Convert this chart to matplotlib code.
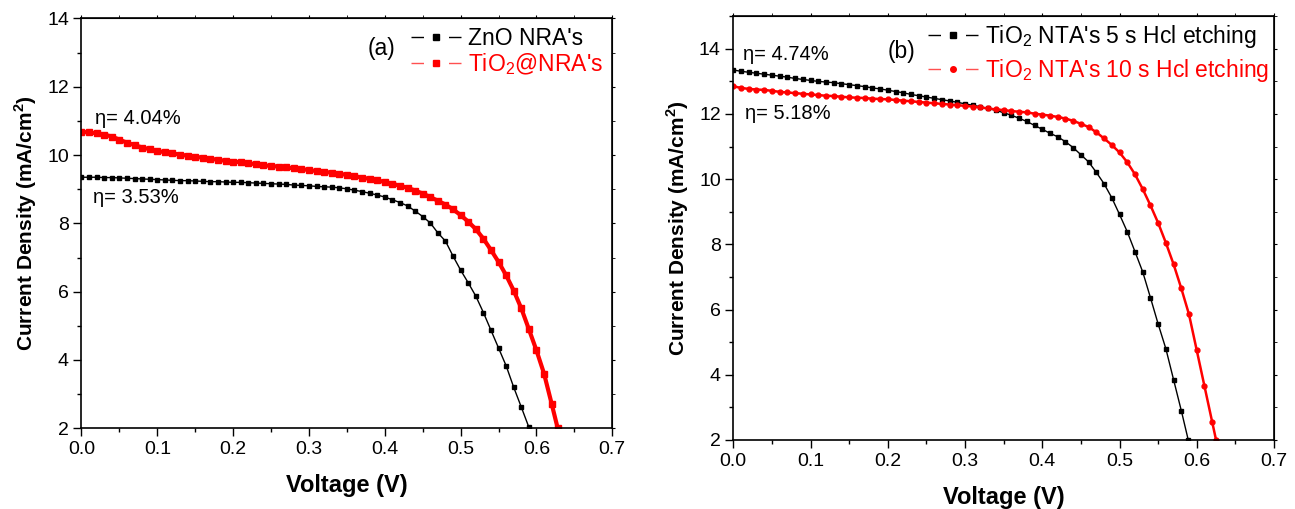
import matplotlib
matplotlib.use("Agg")
from matplotlib import pyplot as plt
from matplotlib.lines import Line2D
from matplotlib.ticker import MultipleLocator

plt.rcParams['font.family'] = ['Liberation Sans', 'DejaVu Sans']
plt.rcParams['mathtext.fontset'] = 'custom'
plt.rcParams['mathtext.rm'] = 'Liberation Sans'
plt.rcParams['mathtext.bf'] = 'Liberation Sans:bold'

# panel (a) - voltage (V) and current density (mA/cm2)
v_zno = [0.00, 0.01, 0.02, 0.03, 0.04, 0.05, 0.06, 0.07, 0.08, 0.09,
         0.10, 0.11, 0.12, 0.13, 0.14, 0.15, 0.16, 0.17, 0.18, 0.19,
         0.20, 0.21, 0.22, 0.23, 0.24, 0.25, 0.26, 0.27, 0.28, 0.29,
         0.30, 0.31, 0.32, 0.33, 0.34, 0.35, 0.36, 0.37, 0.38, 0.39,
         0.40, 0.41, 0.42, 0.43, 0.44, 0.45, 0.46, 0.47, 0.48, 0.49,
         0.50, 0.51, 0.52, 0.53, 0.54, 0.55, 0.56, 0.57, 0.58, 0.59]
j_zno = [9.35, 9.35, 9.35, 9.34, 9.34, 9.33, 9.32, 9.31, 9.30, 9.29,
         9.28, 9.27, 9.26, 9.25, 9.25, 9.24, 9.23, 9.22, 9.22, 9.21,
         9.20, 9.20, 9.19, 9.18, 9.17, 9.16, 9.15, 9.14, 9.12, 9.11,
         9.10, 9.08, 9.07, 9.06, 9.04, 9.01, 8.97, 8.93, 8.88, 8.83,
         8.77, 8.69, 8.61, 8.51, 8.36, 8.20, 8.01, 7.72, 7.48, 7.04,
         6.63, 6.26, 5.87, 5.39, 4.87, 4.35, 3.83, 3.20, 2.62, 2.03]

v_tio2 = [0.00, 0.01, 0.02, 0.03, 0.04, 0.05, 0.06, 0.07, 0.08, 0.09,
          0.10, 0.11, 0.12, 0.13, 0.14, 0.15, 0.16, 0.17, 0.18, 0.19,
          0.20, 0.21, 0.22, 0.23, 0.24, 0.25, 0.26, 0.27, 0.28, 0.29,
          0.30, 0.31, 0.32, 0.33, 0.34, 0.35, 0.36, 0.37, 0.38, 0.39,
          0.40, 0.41, 0.42, 0.43, 0.44, 0.45, 0.46, 0.47, 0.48, 0.49,
          0.50, 0.51, 0.52, 0.53, 0.54, 0.55, 0.56, 0.57, 0.58, 0.59,
          0.60, 0.61, 0.62, 0.628]
j_tio2 = [10.68, 10.66, 10.64, 10.60, 10.54, 10.45, 10.36, 10.29, 10.22, 10.17,
          10.12, 10.08, 10.05, 10.01, 9.98, 9.95, 9.92, 9.89, 9.86, 9.83,
          9.81, 9.79, 9.76, 9.73, 9.70, 9.68, 9.66, 9.64, 9.61, 9.59,
          9.56, 9.53, 9.51, 9.48, 9.45, 9.42, 9.38, 9.34, 9.30, 9.26,
          9.21, 9.16, 9.10, 9.04, 8.96, 8.87, 8.77, 8.66, 8.55, 8.41,
          8.24, 8.05, 7.83, 7.55, 7.22, 6.87, 6.48, 6.03, 5.51, 4.90,
          4.28, 3.60, 2.72, 2.00]

# panel (b)
v_5s = [0.00, 0.01, 0.02, 0.03, 0.04, 0.05, 0.06, 0.07, 0.08, 0.09,
        0.10, 0.11, 0.12, 0.13, 0.14, 0.15, 0.16, 0.17, 0.18, 0.19,
        0.20, 0.21, 0.22, 0.23, 0.24, 0.25, 0.26, 0.27, 0.28, 0.29,
        0.30, 0.31, 0.32, 0.33, 0.34, 0.35, 0.36, 0.37, 0.38, 0.39,
        0.40, 0.41, 0.42, 0.43, 0.44, 0.45, 0.46, 0.47, 0.48, 0.49,
        0.50, 0.51, 0.52, 0.53, 0.54, 0.55, 0.56, 0.57, 0.58, 0.589]
j_5s = [13.35, 13.31, 13.28, 13.25, 13.22, 13.19, 13.16, 13.13, 13.09, 13.06,
        13.03, 13.00, 12.98, 12.96, 12.93, 12.90, 12.87, 12.84, 12.80, 12.77,
        12.73, 12.69, 12.65, 12.60, 12.56, 12.52, 12.48, 12.44, 12.40, 12.36,
        12.31, 12.27, 12.22, 12.17, 12.11, 12.04, 11.96, 11.87, 11.77, 11.65,
        11.53, 11.41, 11.30, 11.15, 10.97, 10.75, 10.53, 10.21, 9.86, 9.43,
        8.92, 8.39, 7.78, 7.16, 6.37, 5.56, 4.80, 3.85, 2.90, 2.00]

v_10s = [0.00, 0.01, 0.02, 0.03, 0.04, 0.05, 0.06, 0.07, 0.08, 0.09,
         0.10, 0.11, 0.12, 0.13, 0.14, 0.15, 0.16, 0.17, 0.18, 0.19,
         0.20, 0.21, 0.22, 0.23, 0.24, 0.25, 0.26, 0.27, 0.28, 0.29,
         0.30, 0.31, 0.32, 0.33, 0.34, 0.35, 0.36, 0.37, 0.38, 0.39,
         0.40, 0.41, 0.42, 0.43, 0.44, 0.45, 0.46, 0.47, 0.48, 0.49,
         0.50, 0.51, 0.52, 0.53, 0.54, 0.55, 0.56, 0.57, 0.58, 0.59,
         0.60, 0.61, 0.62, 0.625]
j_10s = [12.85, 12.80, 12.77, 12.75, 12.74, 12.71, 12.68, 12.66, 12.64, 12.62,
         12.60, 12.58, 12.56, 12.55, 12.53, 12.51, 12.50, 12.49, 12.47, 12.46,
         12.45, 12.43, 12.41, 12.39, 12.37, 12.35, 12.33, 12.31, 12.29, 12.27,
         12.25, 12.23, 12.20, 12.17, 12.14, 12.12, 12.09, 12.07, 12.05, 12.01,
         11.98, 11.95, 11.91, 11.86, 11.79, 11.70, 11.60, 11.44, 11.25, 11.05,
         10.82, 10.52, 10.15, 9.70, 9.20, 8.66, 8.05, 7.39, 6.65, 5.85,
         4.75, 3.65, 2.55, 2.00]

labels_a = ["ZnO NRA's", r"TiO$_2$@NRA's"]
labels_b = [r"TiO$_2$ NTA's 5 s Hcl etching", r"TiO$_2$ NTA's 10 s Hcl etching"]

fig = plt.figure(figsize=(12.95, 5.09), dpi=100)
ax1 = fig.add_axes([81.5/1295, 1-428.3/509, (612.3-81.5)/1295, (428.3-18.4)/509])
ax2 = fig.add_axes([733.3/1295, 1-440/509, (1274-733.3)/1295, (440-16.2)/509])


def style_axis(ax, ytop):
    ax.set_xlim(0, 0.7)
    ax.set_ylim(2, ytop)
    ax.xaxis.set_major_locator(MultipleLocator(0.1))
    ax.xaxis.set_minor_locator(MultipleLocator(0.05))
    ax.yaxis.set_major_locator(MultipleLocator(2))
    ax.yaxis.set_minor_locator(MultipleLocator(1))
    ax.tick_params(which='both', direction='out', width=1)
    ax.tick_params(which='major', length=6, labelsize=14, pad=3)
    ax.tick_params(which='minor', length=3)
    for s in ax.spines.values():
        s.set_linewidth(1.2)
    # small mirror ticks on top and right
    top = ax.secondary_xaxis('top')
    top.xaxis.set_major_locator(MultipleLocator(0.1))
    top.xaxis.set_minor_locator(MultipleLocator(0.05))
    top.tick_params(which='both', direction='out', length=2, labeltop=False)
    right = ax.secondary_yaxis('right')
    right.yaxis.set_major_locator(MultipleLocator(2))
    right.yaxis.set_minor_locator(MultipleLocator(1))
    right.tick_params(which='both', direction='out', length=2, labelright=False)
    ax.set_xlabel('Voltage (V)', fontsize=17, fontweight='bold', labelpad=12)
    ax.set_ylabel(r'Current Density (mA/cm$^\mathbf{2}$)', fontsize=15,
                  fontweight='bold', labelpad=6)


def add_legend(ax, labels, markers, anchor, spacing):
    handles = [Line2D([], [], color='black', lw=1, ls=(0, (9, 18)),
                      marker=markers[0], ms=4),
               Line2D([], [], color='#ff5050', lw=1, ls=(0, (9, 18)),
                      marker=markers[1], ms=4, mfc='red', mec='red')]
    leg = ax.legend(handles, labels, loc='upper left', bbox_to_anchor=anchor,
                    bbox_transform=fig.transFigure, frameon=False, fontsize=16.5,
                    handlelength=2.2, handletextpad=0.3, labelspacing=spacing,
                    borderpad=0, borderaxespad=0)
    for txt, c in zip(leg.get_texts(), ['black', 'red']):
        txt.set_color(c)


# (a)
ax1.plot(v_zno, j_zno, color='black', lw=1, marker='s', ms=3)
ax1.plot(v_tio2, j_tio2, color='red', lw=3, marker='s', ms=4)
style_axis(ax1, 14)
ax1.text(0.395, 13.13, '(a)', fontsize=16.5, ha='center', va='center')
ax1.text(0.018, 11.08, u'\u03b7= 4.04%', fontsize=14.5, va='center')
ax1.text(0.015, 8.77, u'\u03b7= 3.53%', fontsize=14.5, va='center')
add_legend(ax1, labels_a, ['s', 's'], (411/1295, 1-27/509), 0.05)

# (b)
ax2.plot(v_5s, j_5s, color='black', lw=1, marker='s', ms=3)
ax2.plot(v_10s, j_10s, color='red', lw=1.8, marker='o', ms=3.5)
style_axis(ax2, 15)
ax2.text(0.218, 13.91, '(b)', fontsize=16.5, ha='center', va='center')
ax2.text(0.0126, 13.81, u'\u03b7= 4.74%', fontsize=14.5, va='center')
ax2.text(0.015, 12.03, u'\u03b7= 5.18%', fontsize=14.5, va='center')
add_legend(ax2, labels_b, ['s', 'o'], (928/1295, 1-23/509), 0.3)

plt.savefig('out.png', dpi=100)
